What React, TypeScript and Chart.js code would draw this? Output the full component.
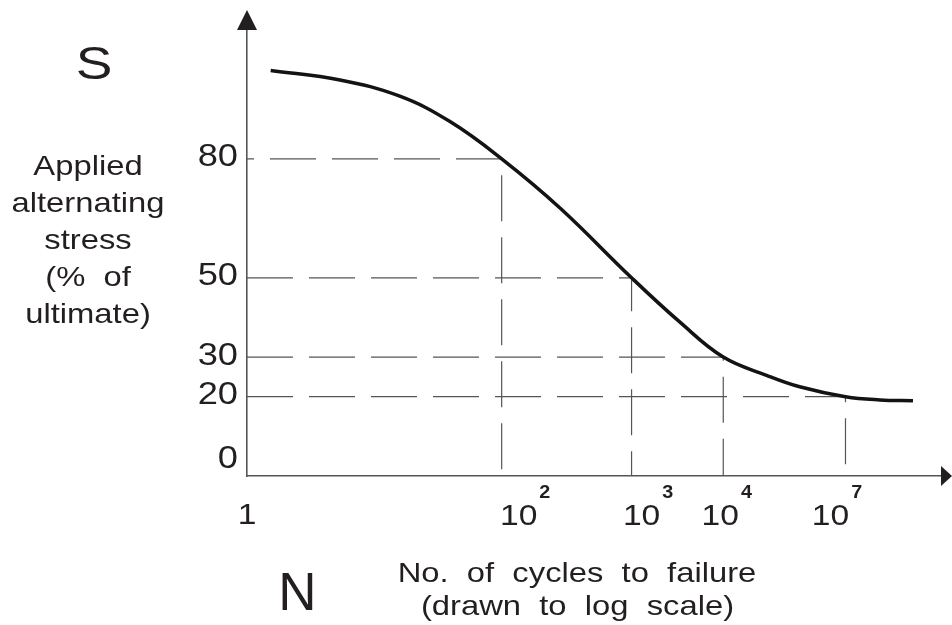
import React, { useEffect, useRef } from 'react';
import { Chart, registerables } from 'chart.js';

Chart.register(...registerables);

// S-N curve, x drawn to a schematic log scale (position units, 10^2 sits at 2)
const curveN = [0.186, 0.73, 1.2, 1.594, 2.0, 2.458, 3.02, 3.4, 3.74, 4.08, 4.34, 4.7, 4.97, 5.23];
const curveS = [102.3, 99.9, 95.8, 89.4, 80, 67.6, 50, 38.8, 30, 25.4, 22.5, 20, 19.2, 19.0];

// reference dashed lines
const refN = [2.0, 3.02, 3.74, 4.7];
const refS = [80, 50, 30, 20];

// ticks
const yTicks = [0, 20, 30, 50, 80];
const xTickPos = [0, 2.0, 3.02, 3.74, 4.7];
const xTickBase = ['1', '10', '10', '10', '10'];
const xTickExp = ['', '2', '3', '4', '7'];

const yTitle = ['Applied', 'alternating', 'stress', '(%  of', 'ultimate)'];
const xTitle = ['No.  of  cycles  to  failure', '(drawn  to  log  scale)'];

const FONT = '"Liberation Sans", Arial, Helvetica, sans-serif';
const INK = '#231f20';
const SX = 1.17;

function drawStretched(ctx: CanvasRenderingContext2D, text: string, x: number, y: number, font: string, sx: number, align: CanvasTextAlign) {
  ctx.save();
  ctx.font = font;
  ctx.textBaseline = 'alphabetic';
  ctx.textAlign = align;
  ctx.translate(x, y);
  ctx.scale(sx, 1);
  ctx.fillText(text, 0, 0);
  ctx.restore();
}

const annotations = {
  id: 'snAnnotations',
  afterDraw(chart: any) {
    const ctx: CanvasRenderingContext2D = chart.ctx;
    const xs = chart.scales.x;
    const ys = chart.scales.y;
    const area = chart.chartArea;
    ctx.save();
    ctx.fillStyle = INK;

    // axis arrows
    const ax = area.left;
    ctx.beginPath();
    ctx.moveTo(ax, area.top - 20);
    ctx.lineTo(ax - 10, area.top);
    ctx.lineTo(ax + 10, area.top);
    ctx.closePath();
    ctx.fill();
    const ay = area.bottom;
    ctx.beginPath();
    ctx.moveTo(area.right + 11, ay);
    ctx.lineTo(area.right, ay - 10);
    ctx.lineTo(area.right, ay + 10);
    ctx.closePath();
    ctx.fill();

    // y tick labels
    const tickFont = `31px ${FONT}`;
    yTicks.forEach((v) => {
      const py = ys.getPixelForValue(v);
      const yy = v === 0 ? py - 8 : py + 7.5;
      drawStretched(ctx, String(v), 238, yy, tickFont, SX, 'right');
    });

    // x tick labels
    const shift = [0, 17, 10, -3, -15];
    const baseFont = `30px ${FONT}`;
    const expFont = `bold 18px ${FONT}`;
    xTickPos.forEach((p, i) => {
      const px = xs.getPixelForValue(p) + shift[i];
      if (!xTickExp[i]) {
        drawStretched(ctx, xTickBase[i], px, ay + 48, baseFont, 1.12, 'center');
        return;
      }
      ctx.save();
      ctx.font = baseFont;
      const bw = ctx.measureText(xTickBase[i]).width * 1.12;
      ctx.restore();
      drawStretched(ctx, xTickBase[i], px, ay + 49, baseFont, 1.12, 'center');
      drawStretched(ctx, xTickExp[i], px + bw / 2 + 2, ay + 22, expFont, 1.1, 'left');
    });

    // big S and N
    drawStretched(ctx, 'S', 94, 79, `47px ${FONT}`, SX, 'center');
    drawStretched(ctx, 'N', 297.5, 610, `53px ${FONT}`, 1.0, 'center');

    // y title
    yTitle.forEach((t, i) => {
      drawStretched(ctx, t, 88, 175 + 37 * i, `28px ${FONT}`, SX, 'center');
    });

    // x title
    drawStretched(ctx, xTitle[0], 577, 582, `28px ${FONT}`, SX, 'center');
    drawStretched(ctx, xTitle[1], 577.5, 615, `28px ${FONT}`, SX, 'center');

    ctx.restore();
  },
};

export default function App() {
  const ref = useRef<HTMLCanvasElement>(null);
  useEffect(() => {
    if (!ref.current) return;
    const datasets: any[] = [
      {
        label: 'S-N curve',
        data: curveN.map((x, i) => ({ x, y: curveS[i] })),
        borderColor: '#151213',
        borderWidth: 3.5,
        pointRadius: 0,
        tension: 0.4,
        fill: false,
      },
    ];
    refN.forEach((n, i) => {
      datasets.push({
        label: 'ref' + i,
        data: [
          { x: 0, y: refS[i] },
          { x: n, y: refS[i] },
          { x: n, y: 0 },
        ],
        borderColor: '#555',
        borderWidth: 1.2,
        borderDash: [46, 16],
        borderDashOffset: i === 0 ? 39 : 0,
        pointRadius: 0,
        tension: 0,
        fill: false,
      });
    });
    const chart = new Chart(ref.current, {
      type: 'line',
      data: { datasets },
      options: {
        responsive: false,
        animation: false,
        layout: { padding: { left: 247, right: 11, top: 30, bottom: 149 } },
        plugins: { legend: { display: false }, tooltip: { enabled: false } },
        scales: {
          x: {
            type: 'linear',
            min: 0,
            max: 5.45,
            grid: { display: false, drawTicks: false, tickLength: 0 },
            ticks: { display: false, padding: 0 },
            border: { display: true, color: '#555', width: 1.6 },
          },
          y: {
            type: 'linear',
            min: 0,
            max: 112.5,
            grid: { display: false, drawTicks: false, tickLength: 0 },
            ticks: { display: false, padding: 0 },
            border: { display: true, color: '#555', width: 1.6 },
          },
        },
      },
      plugins: [annotations],
    });
    return () => chart.destroy();
  }, []);
  return (
    <div style={{ position: 'fixed', left: 0, top: 0, width: 952, height: 625, background: '#fff' }}>
      <canvas ref={ref} width={952} height={625} />
    </div>
  );
}
